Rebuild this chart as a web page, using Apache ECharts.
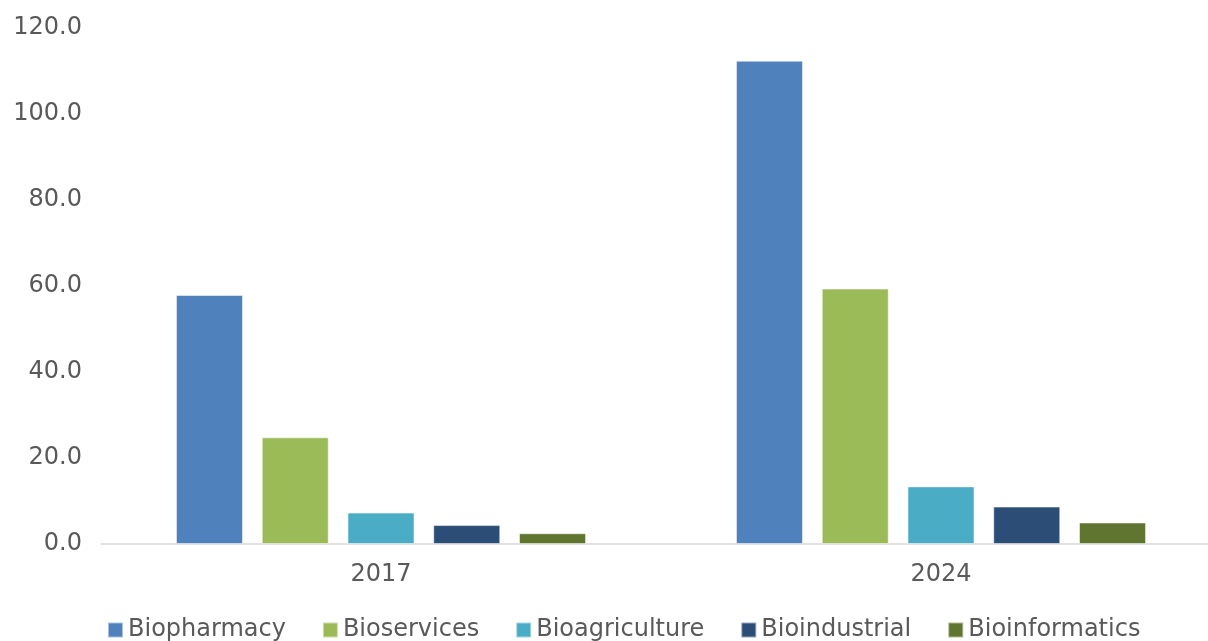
<!DOCTYPE html>
<html>
<head>
<meta charset="utf-8">
<script src="https://cdn.jsdelivr.net/npm/echarts@6/dist/echarts.min.js"></script>
<style>
html,body{margin:0;padding:0;background:#fff;overflow:hidden;}
#main{width:1208px;height:641px;}
</style>
</head>
<body>
<div id="main"></div>
<script>
const categories = ['2017', '2024'];
const seriesNames = ['Biopharmacy', 'Bioservices', 'Bioagriculture', 'Bioindustrial', 'Bioinformatics'];
const biopharmacy = [57.9, 112.4];
const bioservices = [24.8, 59.4];
const bioagriculture = [7.3, 13.4];
const bioindustrial = [4.4, 8.7];
const bioinformatics = [2.5, 5.0];
const colors = ['#4F81BD', '#9BBB59', '#4BACC6', '#2C4D75', '#5F7530'];
const values = [biopharmacy, bioservices, bioagriculture, bioindustrial, bioinformatics];

const chart = echarts.init(document.getElementById('main'));
const fontFamily = '"DejaVu Sans", Verdana, sans-serif';
chart.setOption({
  animation: false,
  color: colors,
  textStyle: { fontFamily: fontFamily },
  grid: { left: 101, width: 1120, top: 28, bottom: 97, containLabel: false, outerBoundsMode: 'none' },
  legend: {
    data: seriesNames,
    left: 107,
    top: 618,
    padding: 0,
    itemWidth: 15,
    itemHeight: 15,
    itemGap: 36,
    icon: 'rect',
    textStyle: { fontSize: 24, color: '#595959', fontFamily: fontFamily }
  },
  xAxis: {
    type: 'category',
    data: categories,
    axisLine: { lineStyle: { color: '#d9d9d9', width: 1.5 } },
    axisTick: { show: false },
    axisLabel: { fontSize: 24, color: '#595959', margin: 19, fontFamily: fontFamily }
  },
  yAxis: {
    type: 'value',
    min: 0,
    max: 120,
    interval: 20,
    axisLine: { show: false },
    axisTick: { show: false },
    splitLine: { show: false },
    axisLabel: {
      fontSize: 24,
      color: '#595959',
      margin: 19,
      fontFamily: fontFamily,
      formatter: v => v.toFixed(1)
    }
  },
  series: seriesNames.map((name, i) => ({
    name: name,
    type: 'bar',
    data: values[i],
    barWidth: 67,
    barGap: '28%',
    itemStyle: { color: colors[i], borderColor: 'rgba(255,255,255,0.5)', borderWidth: 1 }
  }))
});
</script>
</body>
</html>
